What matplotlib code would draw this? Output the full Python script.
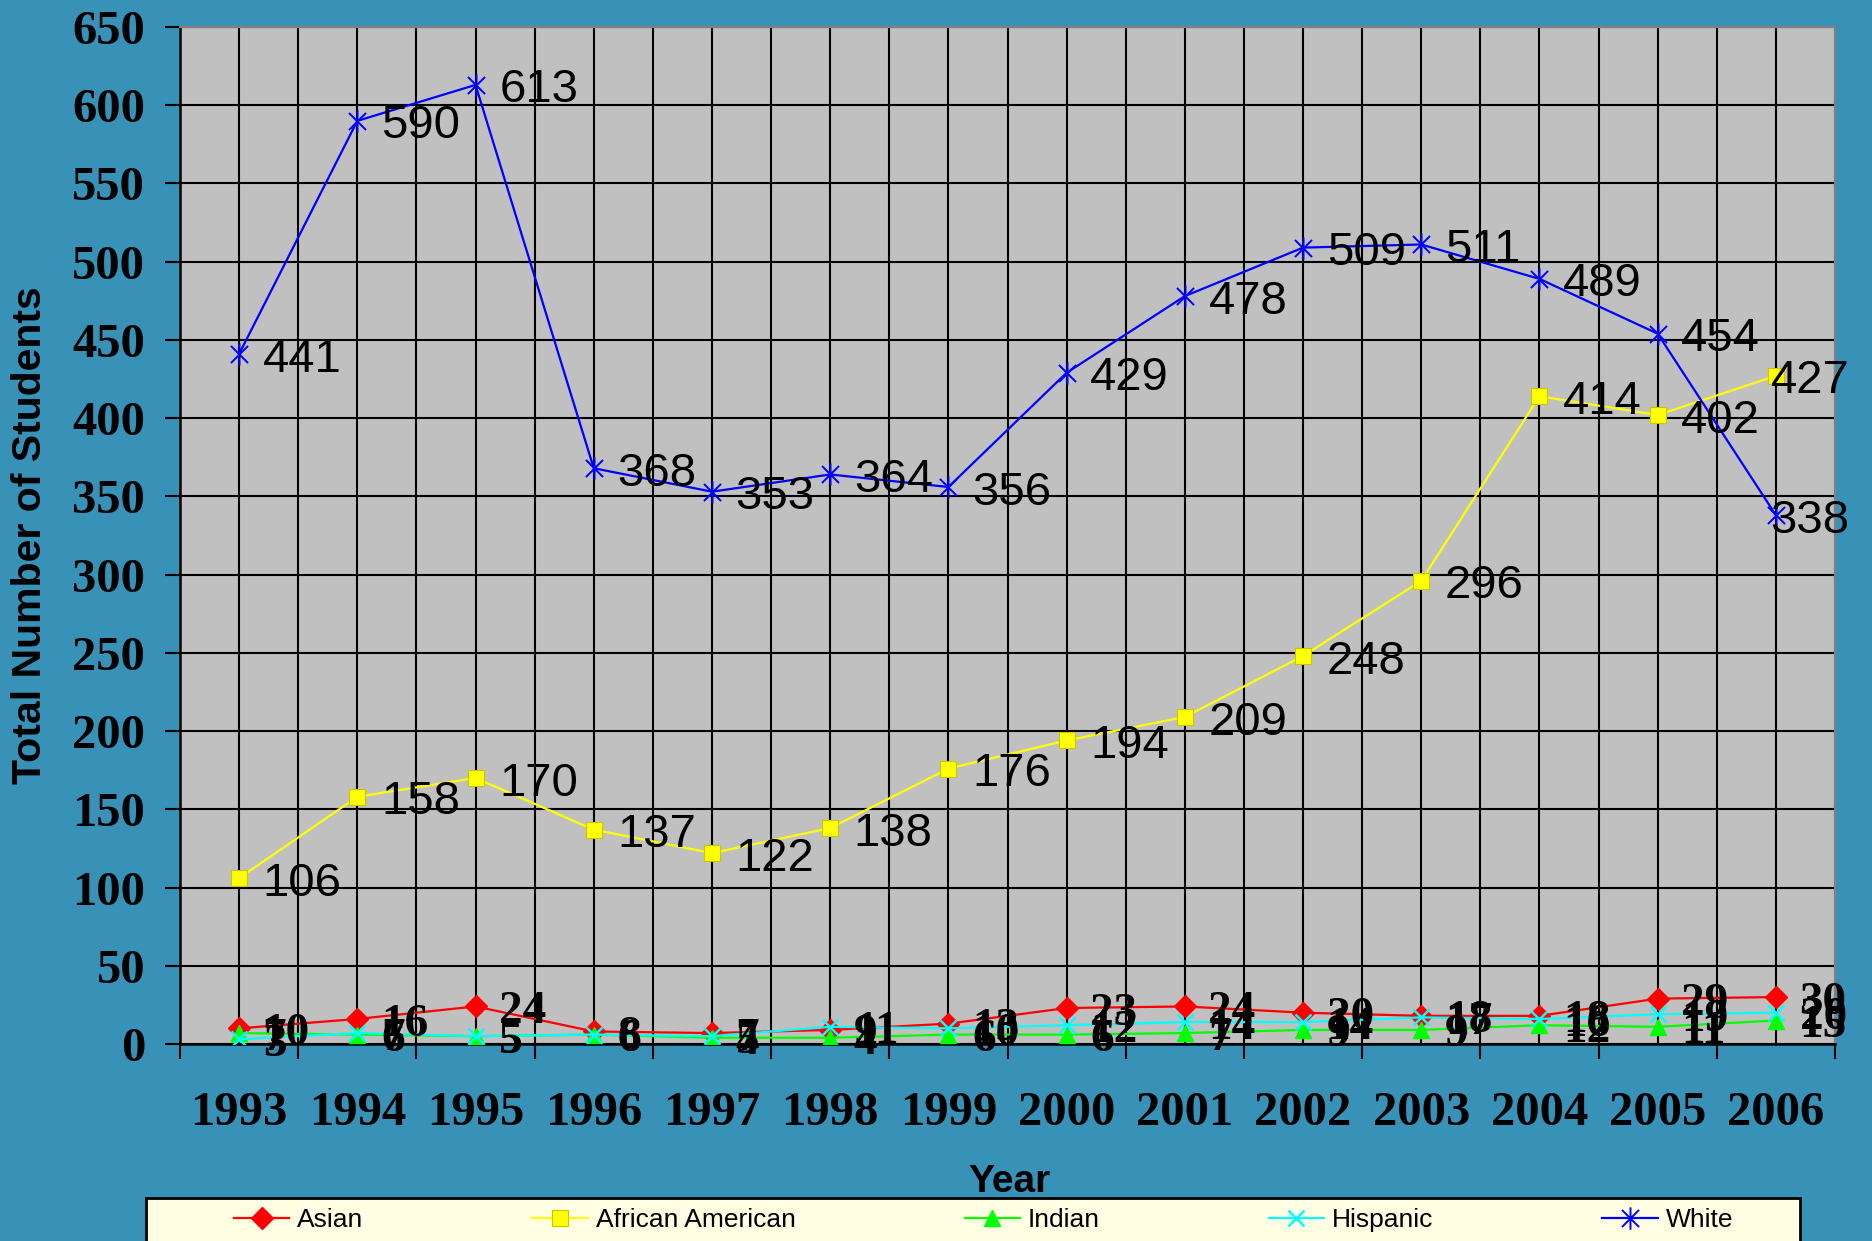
import matplotlib
matplotlib.use("Agg")
import matplotlib.pyplot as plt
import numpy as np
from matplotlib.path import Path
from matplotlib.patches import Rectangle

years = ["1993", "1994", "1995", "1996", "1997", "1998", "1999",
         "2000", "2001", "2002", "2003", "2004", "2005", "2006"]
asian = [10, 16, 24, 8, 7, 9, 13, 23, 24, 20, 18, 18, 29, 30]
african_american = [106, 158, 170, 137, 122, 138, 176, 194, 209, 248, 296, 414, 402, 427]
indian = [7, 6, 5, 6, 4, 4, 6, 6, 7, 9, 9, 12, 11, 15]
hispanic = [3, 7, 5, 6, 5, 11, 10, 12, 14, 14, 17, 16, 19, 20]
white = [441, 590, 613, 368, 353, 364, 356, 429, 478, 509, 511, 489, 454, 338]

W, H = 1872, 1241
BG = "#3891b6"
PLOT_BG = "#c0c0c0"

plt.rcParams["font.family"] = "Liberation Sans"

fig = plt.figure(figsize=(W / 100, H / 100), dpi=100, facecolor=BG)
ax = fig.add_axes([180 / W, 1 - 1044 / H, (1835 - 180) / W, (1044 - 27) / H])
ax.set_facecolor(PLOT_BG)

x = np.arange(len(years))

# asterisk marker (x with a vertical bar), like the spreadsheet "star"
star = Path([(-1, -1), (1, 1), (-1, 1), (1, -1), (0, -1.3), (0, 1.3)],
            [Path.MOVETO, Path.LINETO, Path.MOVETO, Path.LINETO, Path.MOVETO, Path.LINETO])

l_asian, = ax.plot(x, asian, color="#ff0000", lw=1.6, marker="D", ms=11,
                   mfc="#ff0000", mec="#ff0000", label="Asian", zorder=4)
l_aa, = ax.plot(x, african_american, color="#ffff00", lw=1.6, marker="s", ms=12,
                mfc="#ffff00", mec="#c8c800", mew=0.8, label="African American", zorder=4)
l_ind, = ax.plot(x, indian, color="#00ff00", lw=1.6, marker="^", ms=12,
                 mfc="#00ff00", mec="#00ff00", label="Indian", zorder=4)
l_his, = ax.plot(x, hispanic, color="#00ffff", lw=1.6, marker="x", ms=12,
                 mec="#00ffff", mew=1.8, label="Hispanic", zorder=4)
l_wh, = ax.plot(x, white, color="#0000ff", lw=1.6, marker=star, ms=16,
                mfc="none", mec="#0000ff", mew=1.4, label="White", zorder=4)

# data labels
def put_labels(vals, family, weight, size):
    for i, v in enumerate(vals):
        if i == len(vals) - 1 and family == "Liberation Sans":
            ax.annotate(str(v), (i, v), xytext=(53, -4), textcoords="offset points",
                        ha="right", va="center", fontsize=size, family=family,
                        fontweight=weight, color="black", zorder=6)
        else:
            ax.annotate(str(v), (i, v), xytext=(17, -4), textcoords="offset points",
                        ha="left", va="center", fontsize=size, family=family,
                        fontweight=weight, color="black", zorder=6)

put_labels(white, "Liberation Sans", "normal", 34)
put_labels(african_american, "Liberation Sans", "normal", 34)
put_labels(asian, "Liberation Serif", "bold", 34)
put_labels(indian, "Liberation Serif", "bold", 34)
put_labels(hispanic, "Liberation Serif", "bold", 34)

ax.set_xlim(-0.5, len(years) - 0.5)
ax.set_ylim(0, 650)
ax.set_yticks(np.arange(0, 651, 50))
ax.set_xticks(x)
ax.set_xticklabels(years)
ax.set_xticks(np.arange(-0.5, len(years), 1), minor=True)

ax.tick_params(axis="x", which="major", length=0, pad=34)
ax.tick_params(axis="x", which="minor", length=11, width=1.5, direction="out", color="black")
ax.tick_params(axis="y", which="major", length=11, width=1.5, direction="out", pad=14, color="black")
for lab in ax.get_xticklabels() + ax.get_yticklabels():
    lab.set_family("Liberation Serif")
    lab.set_fontweight("bold")
    lab.set_fontsize(35)
    lab.set_color("black")

ax.grid(which="both", axis="x", color="black", lw=1.5, zorder=1)
ax.grid(which="major", axis="y", color="black", lw=1.5, zorder=1)
ax.set_axisbelow(True)

for side in ["top", "right"]:
    ax.spines[side].set_color("#808080")
    ax.spines[side].set_linewidth(1.5)
for side in ["left", "bottom"]:
    ax.spines[side].set_color("black")
    ax.spines[side].set_linewidth(1.8)

fig.text(30 / W, 1 - 535 / H, "Total Number of Students", rotation=90, ha="center",
         va="center", fontsize=29.5, fontweight="bold", color="black")
fig.text(1009 / W, 1 - 1182 / H, "Year", ha="center", va="center",
         fontsize=28, fontweight="bold", color="black", zorder=2)

box = Rectangle((146 / W, -0.05), (1800 - 146) / W, 0.05 + (1 - 1198 / H),
                transform=fig.transFigure, facecolor="#fffde2", edgecolor="black",
                lw=2, zorder=5)
fig.add_artist(box)

leg = fig.legend([l_asian, l_aa, l_ind, l_his, l_wh],
                 ["Asian", "African American", "Indian", "Hispanic", "White"],
                 ncol=5, loc="center left", bbox_to_anchor=(234 / W, 1 - 1220 / H),
                 frameon=False, fontsize=19, handlelength=2.1, handletextpad=0.3,
                 columnspacing=6.4, borderpad=0, borderaxespad=0)
leg.set_zorder(6)

fig.savefig("out.png", dpi=100, facecolor=BG)
